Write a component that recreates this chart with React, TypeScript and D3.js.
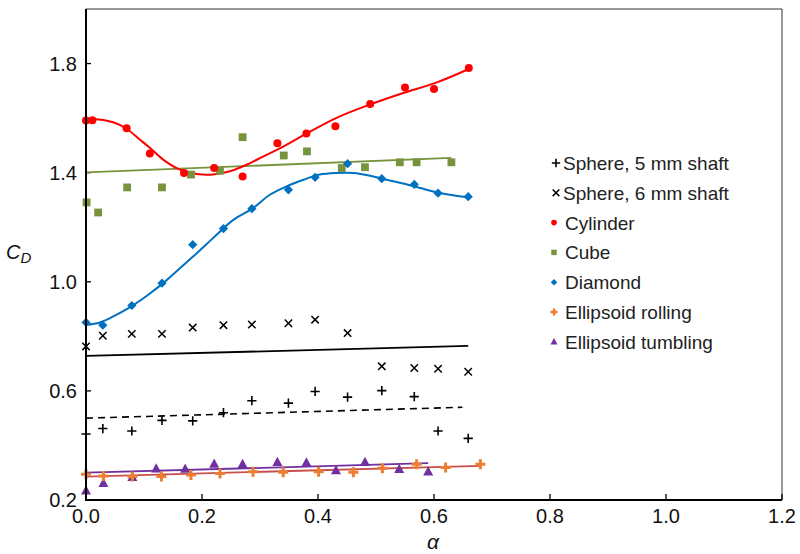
import React from "react";
import * as d3 from "d3";

// ---- data ----
const sphereAlpha = [0, 0.029, 0.079, 0.131, 0.184, 0.237, 0.286, 0.349, 0.395, 0.451, 0.51, 0.566, 0.607, 0.659];
const sphere5 = [0.442, 0.462, 0.453, 0.492, 0.49, 0.52, 0.564, 0.555, 0.598, 0.577, 0.601, 0.579, 0.453, 0.426];
const sphere6 = [0.763, 0.802, 0.809, 0.809, 0.832, 0.841, 0.843, 0.848, 0.861, 0.812, 0.69, 0.684, 0.681, 0.67];
const diamond = [0.851, 0.841, 0.913, 0.995, 1.136, 1.195, 1.268, 1.337, 1.383, 1.433, 1.378, 1.357, 1.325, 1.312];

const cylAlpha = [0, 0.011, 0.07, 0.11, 0.169, 0.221, 0.27, 0.33, 0.38, 0.43, 0.49, 0.55, 0.6, 0.66];
const cylinder = [1.591, 1.592, 1.563, 1.47, 1.399, 1.417, 1.386, 1.508, 1.544, 1.57, 1.652, 1.712, 1.707, 1.784];

const cubeAlpha = [0.001, 0.021, 0.071, 0.131, 0.181, 0.231, 0.27, 0.341, 0.381, 0.441, 0.481, 0.541, 0.57, 0.63];
const cube = [1.291, 1.254, 1.346, 1.346, 1.393, 1.407, 1.53, 1.463, 1.478, 1.417, 1.42, 1.438, 1.438, 1.438];

const rollAlpha = [0, 0.03, 0.08, 0.13, 0.181, 0.231, 0.288, 0.34, 0.401, 0.461, 0.511, 0.57, 0.62, 0.68];
const rolling = [0.294, 0.288, 0.286, 0.286, 0.292, 0.297, 0.304, 0.302, 0.304, 0.302, 0.316, 0.331, 0.319, 0.331];

const tumbAlpha = [0, 0.03, 0.08, 0.121, 0.171, 0.221, 0.27, 0.33, 0.38, 0.431, 0.481, 0.54, 0.59];
const tumbling = [0.234, 0.261, 0.283, 0.315, 0.314, 0.332, 0.331, 0.338, 0.337, 0.308, 0.338, 0.313, 0.304];

// trend curves
const cylFitAlpha = [0, 0.0126, 0.047, 0.07, 0.093, 0.11, 0.133, 0.162, 0.191, 0.219, 0.248, 0.277, 0.306, 0.334, 0.38, 0.432, 0.49, 0.547, 0.605, 0.66];
const cylFit = [1.594, 1.597, 1.585, 1.561, 1.521, 1.491, 1.448, 1.411, 1.395, 1.393, 1.405, 1.429, 1.46, 1.489, 1.543, 1.601, 1.65, 1.692, 1.731, 1.78];
const diaFitAlpha = [0, 0.024, 0.047, 0.076, 0.105, 0.133, 0.162, 0.191, 0.219, 0.254, 0.286, 0.317, 0.346, 0.375, 0.403, 0.432, 0.461, 0.49, 0.518, 0.547, 0.576, 0.605, 0.633, 0.659];
const diaFit = [0.842, 0.851, 0.873, 0.907, 0.949, 0.995, 1.05, 1.105, 1.16, 1.227, 1.267, 1.319, 1.35, 1.374, 1.393, 1.399, 1.399, 1.389, 1.374, 1.36, 1.344, 1.328, 1.317, 1.309];
const cubeFitAlpha = [0, 0.63];
const cubeFit = [1.401, 1.454];
const sphere6FitAlpha = [0, 0.659];
const sphere6Fit = [0.728, 0.765];
const sphere5FitAlpha = [0, 0.649];
const sphere5Fit = [0.5, 0.54];
const rollFitAlpha = [0, 0.68];
const rollFit = [0.286, 0.325];
const tumbFitAlpha = [0, 0.59];
const tumbFit = [0.3, 0.335];

const xTicks = [0, 0.2, 0.4, 0.6, 0.8, 1.0, 1.2];
const yTicks = [0.2, 0.6, 1.0, 1.4, 1.8];

const legendLabels = [
  "Sphere, 5 mm shaft",
  "Sphere, 6 mm shaft",
  "Cylinder",
  "Cube",
  "Diamond",
  "Ellipsoid rolling",
  "Ellipsoid tumbling",
];

const RED = "#ff0000";
const GREEN = "#77933c";
const BLUE = "#0070c0";
const ORANGE = "#ed7d31";
const PURPLE = "#7030a0";
const ROLLLINE = "#c8504a";
const FONT = "'Liberation Sans', Arial, sans-serif";

const W = 800, H = 554;
const L = 86, R = 782, T = 9, B = 500;

const x = d3.scaleLinear().domain([0, 1.2]).range([L, R]);
const y = d3.scaleLinear().domain([0.2, 2.0]).range([B, T]);

function zip(a: number[], b: number[]): [number, number][] {
  return a.map((v, i) => [v, b[i]]);
}

const smooth = d3.line<[number, number]>().x(d => x(d[0])).y(d => y(d[1])).curve(d3.curveCatmullRom.alpha(0.5));
const straight = d3.line<[number, number]>().x(d => x(d[0])).y(d => y(d[1]));

type Kind = "plus" | "cross" | "circle" | "square" | "diamond" | "oplus" | "tri";

function Marker({ kind, cx, cy, s = 1 }: { kind: Kind; cx: number; cy: number; s?: number }) {
  switch (kind) {
    case "plus": {
      const a = 4.6 * s;
      return <path d={`M${cx - a},${cy}H${cx + a}M${cx},${cy - a}V${cy + a}`} stroke="#000" strokeWidth={1.6} />;
    }
    case "cross": {
      const a = 3.7 * s;
      return <path d={`M${cx - a},${cy - a}L${cx + a},${cy + a}M${cx - a},${cy + a}L${cx + a},${cy - a}`} stroke="#000" strokeWidth={1.5} />;
    }
    case "circle":
      return <circle cx={cx} cy={cy} r={4 * s} fill={RED} />;
    case "square": {
      const a = 3.9 * s;
      return <rect x={cx - a} y={cy - a} width={2 * a} height={2 * a} fill={GREEN} />;
    }
    case "diamond": {
      const a = 4.6 * s;
      return <path d={`M${cx},${cy - a}L${cx + a},${cy}L${cx},${cy + a}L${cx - a},${cy}Z`} fill={BLUE} />;
    }
    case "oplus": {
      const a = 5 * s;
      return <path d={`M${cx - a},${cy}H${cx + a}M${cx},${cy - a}V${cy + a}`} stroke={ORANGE} strokeWidth={3 * Math.max(s, 0.8)} />;
    }
    case "tri": {
      const a = 5 * s;
      return <path d={`M${cx},${cy - a * 1.1}L${cx + a},${cy + a * 0.75}L${cx - a},${cy + a * 0.75}Z`} fill={PURPLE} />;
    }
  }
  return null;
}

function Series({ xs, ys, kind }: { xs: number[]; ys: number[]; kind: Kind }) {
  return (
    <g>
      {xs.map((a, i) => (
        <Marker key={i} kind={kind} cx={x(a)} cy={y(ys[i])} />
      ))}
    </g>
  );
}

const legendKinds: Kind[] = ["plus", "cross", "circle", "square", "diamond", "oplus", "tri"];

export default function App() {
  return (
    <svg width={W} height={H} viewBox={`0 0 ${W} ${H}`} style={{ position: "absolute", left: 0, top: 0, background: "#fff" }}>
      <rect x={0} y={0} width={W} height={H} fill="#fff" />
      {/* frame */}
      <line x1={L} y1={T} x2={R} y2={T} stroke="#333" strokeWidth={1} />
      <line x1={R} y1={T} x2={R} y2={B} stroke="#333" strokeWidth={1} />
      {/* ticks */}
      {xTicks.map(t => (
        <line key={"xt" + t} x1={x(t)} x2={x(t)} y1={B} y2={B - 6} stroke="#000" strokeWidth={1.3} />
      ))}
      {yTicks.map(t => (
        <line key={"yt" + t} x1={L} x2={L + 5} y1={y(t)} y2={y(t)} stroke="#000" strokeWidth={1.3} />
      ))}
      {xTicks.map(t => (
        <text key={"xl" + t} x={x(t)} y={523} textAnchor="middle" fontFamily={FONT} fontSize={20} fill="#111">
          {d3.format(".1f")(t)}
        </text>
      ))}
      {yTicks.map(t => (
        <text key={"yl" + t} x={77} y={y(t) + 7} textAnchor="end" fontFamily={FONT} fontSize={20} fill="#111">
          {d3.format(".1f")(t)}
        </text>
      ))}
      {/* axis labels */}
      <text x={6} y={259} fontFamily={FONT} fontSize={20} fontStyle="italic" fill="#111">
        C<tspan fontSize={15} dy={4}>D</tspan>
      </text>
      <text x={433} y={549} textAnchor="middle" fontFamily={FONT} fontSize={21} fontStyle="italic" fill="#111">α</text>

      {/* trend lines */}
      <path d={straight(zip(sphere6FitAlpha, sphere6Fit)) || ""} fill="none" stroke="#000" strokeWidth={1.8} />
      <path d={straight(zip(sphere5FitAlpha, sphere5Fit)) || ""} fill="none" stroke="#000" strokeWidth={1.6} strokeDasharray="7,5" />
      <path d={straight(zip(cubeFitAlpha, cubeFit)) || ""} fill="none" stroke={GREEN} strokeWidth={1.8} />
      <path d={smooth(zip(cylFitAlpha, cylFit)) || ""} fill="none" stroke={RED} strokeWidth={2} />
      <path d={smooth(zip(diaFitAlpha, diaFit)) || ""} fill="none" stroke={BLUE} strokeWidth={2} />
      <path d={straight(zip(rollFitAlpha, rollFit)) || ""} fill="none" stroke={ROLLLINE} strokeWidth={1.8} />
      <path d={straight(zip(tumbFitAlpha, tumbFit)) || ""} fill="none" stroke={PURPLE} strokeWidth={1.8} />

      {/* markers */}
      <Series xs={sphereAlpha} ys={sphere5} kind="plus" />
      <Series xs={sphereAlpha} ys={sphere6} kind="cross" />
      <Series xs={cubeAlpha} ys={cube} kind="square" />
      <Series xs={cylAlpha} ys={cylinder} kind="circle" />
      <Series xs={sphereAlpha} ys={diamond} kind="diamond" />
      <Series xs={tumbAlpha} ys={tumbling} kind="tri" />
      <Series xs={rollAlpha} ys={rolling} kind="oplus" />

      {/* axes */}
      <line x1={L} y1={T} x2={L} y2={B + 1} stroke="#000" strokeWidth={2} />
      <line x1={L - 1} y1={B} x2={R} y2={B} stroke="#000" strokeWidth={2} />

      {/* legend */}
      {legendLabels.map((lab, i) => {
        const cy = 163 + i * 29.8;
        const tx = i < 2 ? 563 : 565;
        return (
          <g key={lab}>
            <Marker kind={legendKinds[i]} cx={i < 2 ? 556 : 554} cy={cy} s={i < 2 ? 0.9 : 0.7} />
            <text x={tx} y={cy + 7} fontFamily={FONT} fontSize={19} fill="#222">{lab}</text>
          </g>
        );
      })}
    </svg>
  );
}
